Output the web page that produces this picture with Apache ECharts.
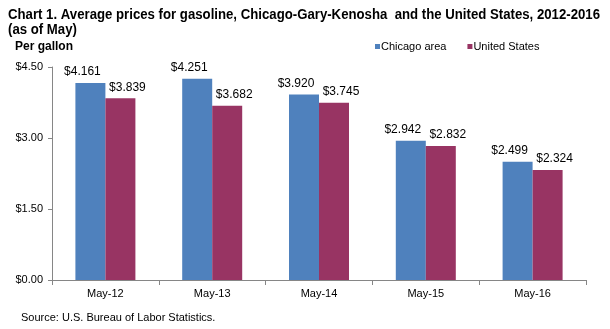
<!DOCTYPE html>
<html><head><meta charset="utf-8">
<script src="https://cdn.jsdelivr.net/npm/echarts@6/dist/echarts.min.js"></script>
<style>html,body{margin:0;padding:0;background:#fff}#c{width:610px;height:329px}</style>
</head><body><div id="c"></div>
<script>
const categories = ['May-12','May-13','May-14','May-15','May-16'];
const chicago = [4.161, 4.251, 3.920, 2.942, 2.499];
const us = [3.839, 3.682, 3.745, 2.832, 2.324];
const seriesNames = ['Chicago area','United States'];
const titleLines = ['Chart 1. Average prices for gasoline, Chicago-Gary-Kenosha  and the United States, 2012-2016', '(as of May)'];

const F = 'Liberation Sans, Arial, sans-serif';
const titleFont = 'bold 14px ' + F;
const ctx = document.createElement('canvas').getContext('2d');
ctx.font = titleFont;
const w1 = ctx.measureText(titleLines[0]).width;
const sx = 592 / w1;

const chart = echarts.init(document.getElementById('c'), null, {renderer:'canvas'});
chart.setOption({
  animation:false,
  textStyle:{fontFamily:F},
  graphic:[
    {type:'text', left:8, top:8, scaleX:sx, originX:0, style:{text:titleLines[0], font:titleFont, fill:'#000'}},
    {type:'text', left:8, top:23, scaleX:sx, originX:0, style:{text:titleLines[1], font:titleFont, fill:'#000'}}
  ],
  title:[
    {text:'Per gallon', left:15, top:41, padding:0, textStyle:{fontFamily:F, fontSize:12, fontWeight:'bold', color:'#000'}},
    {text:'Source: U.S. Bureau of Labor Statistics.', left:21, top:312, padding:0, textStyle:{fontFamily:F, fontSize:11, fontWeight:'normal', color:'#000'}}
  ],
  legend:{data:seriesNames, left:375, top:41, padding:0, itemWidth:5, itemHeight:5, itemGap:21, icon:'rect',
    textStyle:{fontFamily:F, fontSize:11, color:'#000', padding:[0,0,0,-4]}},
  grid:{left:52, right:24, top:67, bottom:49},
  xAxis:{type:'category', data:categories,
    axisLine:{lineStyle:{color:'#868686'}},
    axisTick:{show:true, length:5, lineStyle:{color:'#868686'}},
    axisLabel:{color:'#000', fontSize:11, fontFamily:F, margin:8}},
  yAxis:{type:'value', min:0, max:4.5, interval:1.5,
    axisLine:{show:true, lineStyle:{color:'#868686'}},
    axisTick:{show:true, length:4, lineStyle:{color:'#868686'}},
    splitLine:{show:false},
    axisLabel:{color:'#000', fontSize:11, fontFamily:F, margin:9, formatter:v=>'$'+v.toFixed(2)}},
  series:[
    {name:seriesNames[0], type:'bar', data:chicago, barWidth:30, barGap:'0%',
     itemStyle:{color:'#4F81BD'},
     label:{show:true, position:'top', offset:[-8,0], color:'#000', fontSize:12, fontFamily:F, formatter:p=>'$'+p.value.toFixed(3)}},
    {name:seriesNames[1], type:'bar', data:us, barWidth:30,
     itemStyle:{color:'#983463'},
     label:{show:true, position:'top', offset:[7,0], color:'#000', fontSize:12, fontFamily:F, formatter:p=>'$'+p.value.toFixed(3)}}
  ]
});
</script></body></html>
